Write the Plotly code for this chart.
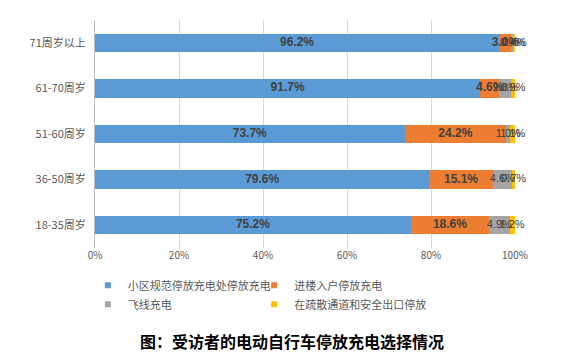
import plotly.graph_objects as go

categories = ["18-35周岁", "36-50周岁", "51-60周岁", "61-70周岁", "71周岁以上"]
series_names = ["小区规范停放充电处停放充电", "进楼入户停放充电", "飞线充电", "在疏散通道和安全出口停放"]
s1 = [75.2, 79.6, 73.7, 91.7, 96.2]
s2 = [18.6, 15.1, 24.2, 4.6, 3.0]
s3 = [4.9, 4.6, 1.0, 2.8, 0.4]
s4 = [1.2, 0.7, 1.1, 0.9, 0.4]
colors = ["#5B9BD5", "#ED7D31", "#A5A5A5", "#FFC000"]
x_ticks = [0, 20, 40, 60, 80, 100]
x_tick_labels = ["0%", "20%", "40%", "60%", "80%", "100%"]
title_text = "图：受访者的电动自行车停放充电选择情况"

series = [s1, s2, s3, s4]
fig = go.Figure()
for name, vals, c in zip(series_names, series, colors):
    fig.add_trace(go.Bar(y=categories, x=vals, name=name, orientation="h",
                         marker=dict(color=c, line=dict(width=0)), textposition="none",
                         hoverinfo="skip", showlegend=False))

# legend entries with small square markers, two columns (legend / legend2)
legend_ids = ["legend", "legend2", "legend", "legend2"]
for name, c, lg in zip(series_names, colors, legend_ids):
    fig.add_trace(go.Scatter(x=[None], y=[None], mode="markers", name=name, legend=lg,
                             marker=dict(symbol="square", size=6, color=c)))

# labels at segment centres
base = [0] * len(categories)
for i, vals in enumerate(series):
    mids = [b + v / 2 for b, v in zip(base, vals)]
    bold = i < 2
    fig.add_trace(go.Scatter(y=categories, x=mids, mode="text",
                             text=[(f"<b>{v:.1f}%</b>" if bold else f"{v:.1f}%") for v in vals],
                             textfont=dict(family="Liberation Sans, Arial", size=12 if bold else 11,
                                           color="#404040"),
                             showlegend=False, hoverinfo="skip", cliponaxis=False))
    base = [b + v for b, v in zip(base, vals)]

legend_common = dict(orientation="v", yanchor="top", xanchor="left", traceorder="normal",
                     font=dict(size=11, color="#595959"), itemwidth=30, tracegroupgap=0,
                     bgcolor="rgba(0,0,0,0)")
fig.update_layout(
    barmode="stack",
    bargap=0.6,
    width=576, height=361,
    margin=dict(l=87, r=69, t=12, b=121, autoexpand=False),
    paper_bgcolor="white", plot_bgcolor="white",
    font=dict(family="Noto Sans CJK SC, sans-serif", color="#595959", size=11),
    xaxis=dict(range=[0, 100], tickvals=x_ticks, ticktext=x_tick_labels,
               showgrid=True, gridcolor="#D9D9D9", gridwidth=1, zeroline=False,
               tickfont=dict(size=10, color="#595959"), ticks="", automargin=False),
    yaxis=dict(showline=True, linecolor="#BFBFBF", linewidth=1, ticks="",
               tickfont=dict(size=11, color="#595959"), ticklabelstandoff=6, automargin=False),
    legend=dict(x=-0.017, y=-0.10, **legend_common),
    legend2=dict(x=0.379, y=-0.10, **legend_common),
    showlegend=True,
    annotations=[dict(text="<b>" + title_text + "</b>", xref="paper", yref="paper",
                      x=0.47, y=-0.41, xanchor="center", yanchor="middle", showarrow=False,
                      font=dict(size=16, color="#000000", family="Noto Sans CJK SC"))],
)
fig.write_html("out.html")
